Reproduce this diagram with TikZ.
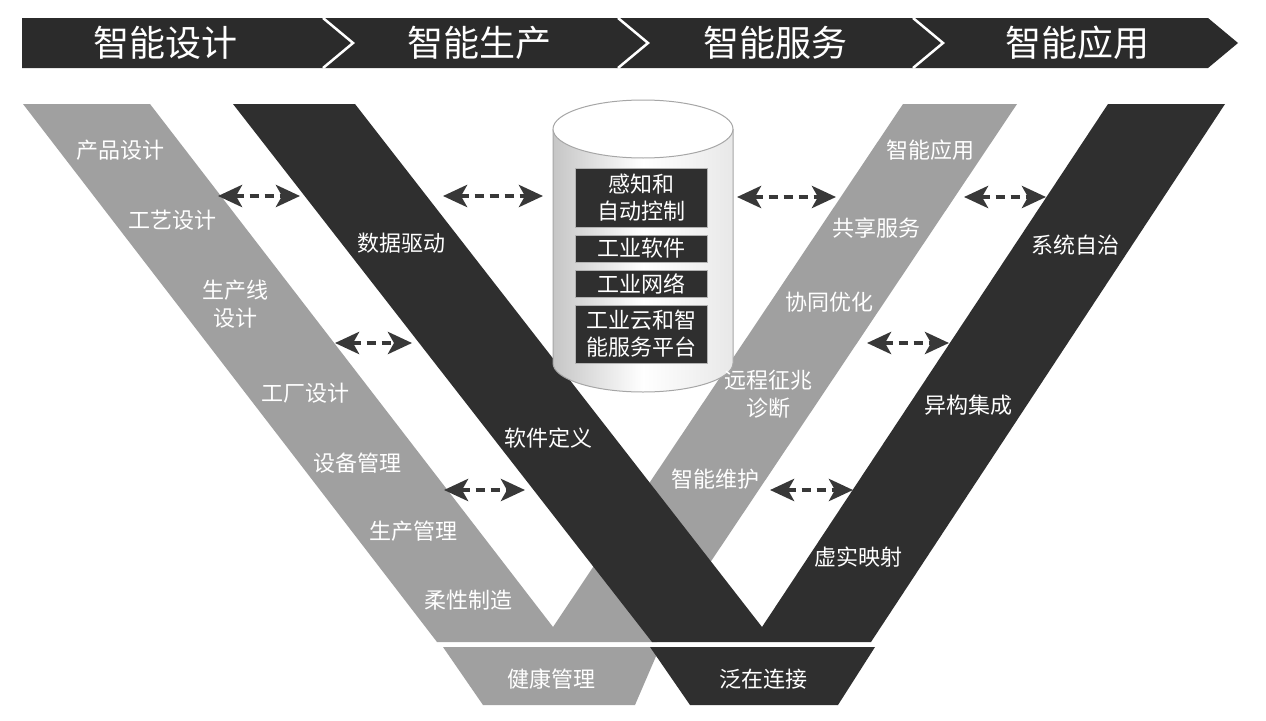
\documentclass[tikz,border=0pt]{standalone}
\usepackage{fontspec}
\setmainfont{Noto Sans CJK SC}
\usetikzlibrary{arrows.meta}
\definecolor{lightband}{HTML}{A0A0A0}
\definecolor{darkband}{HTML}{2F2F2F}
\definecolor{bannerc}{HTML}{2B2B2B}
\definecolor{arrowc}{HTML}{383838}
\begin{document}
\begin{tikzpicture}[x=1pt,y=-1pt,
  lbl/.style={text=white, font=\fontsize{22}{28}\selectfont, inner sep=0pt, align=center},
  ban/.style={text=white, font=\fontsize{36}{40}\selectfont, inner sep=0pt},
  cbox/.style={fill=darkband, draw=gray!60, line width=0.8pt, text=white,
    font=\fontsize{22}{27}\selectfont, minimum width=132pt, inner sep=0pt, align=center},
  link/.style={draw=arrowc, line width=4.5pt, dash pattern=on 9pt off 6pt,
    {Stealth[length=24pt,width=22pt,inset=6pt]}-{Stealth[length=24pt,width=22pt,inset=6pt]}}]

\fill[white] (0,0) rectangle (1266,720);

% banner
\fill[bannerc] (22,18) -- (1208,18) -- (1238,43) -- (1208,68) -- (22,68) -- cycle;
\foreach \x in {323,618,913}
  \draw[white, line width=2.5pt] (\x,18) -- (\x+30,43) -- (\x,68);
\node[ban] (h1) at (165,43) {智能设计};
\node[ban] (h2) at (479,43) {智能生产};
\node[ban] (h3) at (775,43) {智能服务};
\node[ban] (h4) at (1077,43) {智能应用};

% V bands
\fill[lightband] (23,104) -- (150,104) -- (553,627) -- (903,104) -- (1017,104) -- (657,642) -- (437,642) -- cycle;
\fill[darkband] (233,104) -- (355,104) -- (762,627) -- (1108,104) -- (1225,104) -- (871,642) -- (652,642) -- cycle;
\fill[lightband] (443,647) -- (660,647) -- (635,705) -- (483,705) -- cycle;
\fill[darkband] (650,647) -- (875,647) -- (838,705) -- (690,705) -- cycle;

% cylinder
\shade[left color=gray!45, right color=gray!18, middle color=white]
  (553,129) -- (553,363) arc[start angle=180, end angle=360, x radius=90pt, y radius=29pt] -- (733,129) -- cycle;
\draw[gray!70, line width=1pt]
  (553,129) -- (553,363) arc[start angle=180, end angle=360, x radius=90pt, y radius=29pt] -- (733,129);
\draw[gray!70, line width=1pt, fill=white] (643,129) ellipse[x radius=90pt, y radius=29pt];
\node[cbox, minimum height=59pt] (b1) at (641,197.5) {感知和\\自动控制};
\node[cbox, minimum height=27pt] (b2) at (641,248.5) {工业软件};
\node[cbox, minimum height=27pt] (b3) at (641,283.5) {工业网络};
\node[cbox, minimum height=58pt] (b4) at (641,334) {工业云和智\\能服务平台};

% labels light left
\node[lbl] (l1) at (120,150) {产品设计};
\node[lbl] (l2) at (172,220) {工艺设计};
\node[lbl] (l3) at (235,304) {生产线\\设计};
\node[lbl] (l4) at (305,393) {工厂设计};
\node[lbl] (l5) at (357,463) {设备管理};
\node[lbl] (l6) at (413,531) {生产管理};
\node[lbl] (l7) at (468,600) {柔性制造};
% dark left
\node[lbl] (d1) at (401,243) {数据驱动};
\node[lbl] (d2) at (548,438) {软件定义};
% light right
\node[lbl] (r1) at (930,150) {智能应用};
\node[lbl] (r2) at (876,228) {共享服务};
\node[lbl] (r3) at (829,302) {协同优化};
\node[lbl] (r4) at (768,394) {远程征兆\\诊断};
\node[lbl] (r5) at (715,479) {智能维护};
% dark right
\node[lbl] (s1) at (1075,245) {系统自治};
\node[lbl] (s2) at (968,405) {异构集成};
\node[lbl] (s3) at (858,557) {虚实映射};
% bottom
\node[lbl] (f1) at (551,679) {健康管理};
\node[lbl] (f2) at (763,679) {泛在连接};

% arrows
\coordinate (a1l) at (218,196); \coordinate (a1r) at (300,196);
\coordinate (a2l) at (443,196); \coordinate (a2r) at (543,196);
\coordinate (a3l) at (737,197); \coordinate (a3r) at (836,197);
\coordinate (a4l) at (964,197); \coordinate (a4r) at (1046,197);
\coordinate (a5l) at (335,343); \coordinate (a5r) at (412,343);
\coordinate (a6l) at (867,343); \coordinate (a6r) at (949,343);
\coordinate (a7l) at (444,490); \coordinate (a7r) at (525,490);
\coordinate (a8l) at (770,490); \coordinate (a8r) at (853,490);
\foreach \i in {1,...,8} \draw[link] (a\i l) -- (a\i r);
\end{tikzpicture}
\end{document}
